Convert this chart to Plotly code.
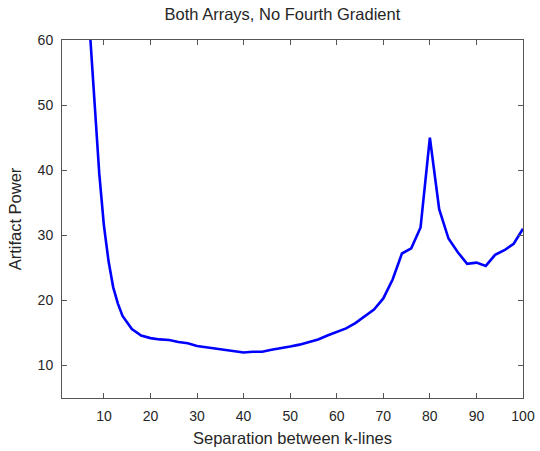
import plotly.graph_objects as go

# Artifact power versus k-line separation
separation = [6, 7, 8, 9, 10, 11, 12, 13, 14, 16, 18, 20, 22, 24, 26, 28, 30, 32, 34,
              36, 38, 40, 42, 44, 46, 48, 50, 52, 54, 56, 58, 60, 62, 64, 66, 68, 70,
              72, 74, 76, 78, 80, 82, 84, 86, 88, 90, 92, 94, 96, 98, 100]
artifact_power = [72.0, 61.0, 49.5, 39.5, 31.5, 26.0, 22.0, 19.5, 17.6, 15.6, 14.6, 14.2,
                  14.0, 13.9, 13.6, 13.4, 13.0, 12.8, 12.5, 12.3, 12.1, 12.0, 12.1, 12.1,
                  12.4, 12.6, 12.9, 13.2, 13.6, 14.0, 14.6, 15.2, 15.7, 16.5, 17.5, 18.6,
                  20.3, 23.2, 27.2, 28.0, 31.2, 45.0, 34.0, 29.5, 27.4, 25.6, 25.8, 25.3,
                  27.0, 27.7, 28.7, 31.0]

x_ticks = [10, 20, 30, 40, 50, 60, 70, 80, 90, 100]
y_ticks = [10, 20, 30, 40, 50, 60]

font = "Liberation Sans, Arial, sans-serif"
text_color = "#262626"

fig = go.Figure()
fig.add_trace(go.Scatter(
    x=separation, y=artifact_power, mode="lines",
    line=dict(color="#0000FF", width=2.6),
    showlegend=False,
))

axis_common = dict(
    showline=True, linecolor="#555555", linewidth=1,
    mirror="allticks", ticks="inside", ticklen=5, tickcolor="#555555",
    showgrid=False, zeroline=False, automargin=False,
    ticklabelstandoff=5,
    tickfont=dict(family=font, size=14, color=text_color),
)

fig.update_layout(
    width=540, height=451,
    margin=dict(l=62, r=17, t=40, b=53),
    paper_bgcolor="white", plot_bgcolor="white",
    title=dict(text="Both Arrays, No Fourth Gradient", x=0.523, xanchor="center",
               y=0.968, yanchor="middle",
               font=dict(family=font, size=16.5, color=text_color)),
    xaxis=dict(range=[1, 100], tickvals=x_ticks,
               title=dict(text="Separation between k-lines", standoff=9,
                          font=dict(family=font, size=16.5, color=text_color)),
               **axis_common),
    yaxis=dict(range=[5, 60], tickvals=y_ticks,
               title=dict(text="Artifact Power", standoff=11,
                          font=dict(family=font, size=16.5, color=text_color)),
               **axis_common),
)

fig.write_html("out.html")
